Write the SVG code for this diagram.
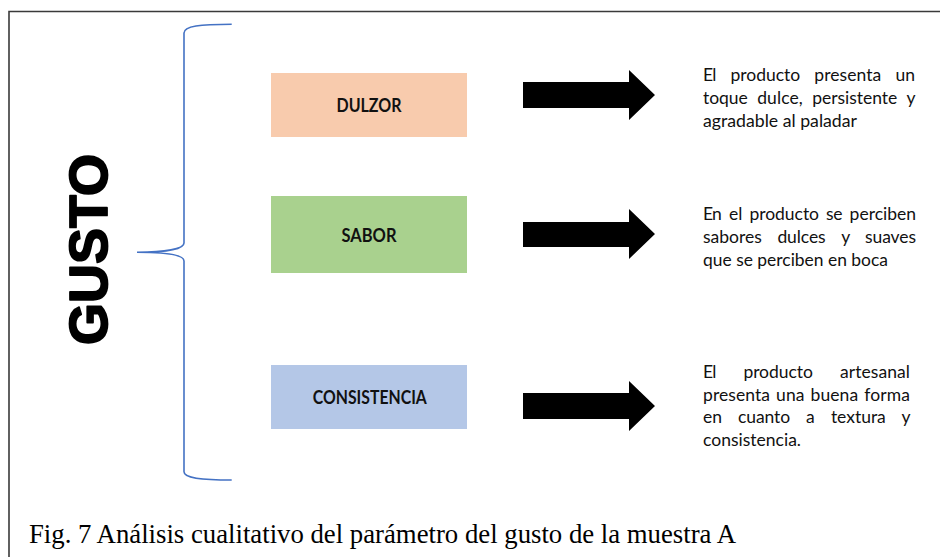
<svg xmlns="http://www.w3.org/2000/svg" width="940" height="557" viewBox="0 0 940 557">
<style>
.frame{fill:none;stroke:#3a3a3a;stroke-width:1.6}
.brace{fill:none;stroke:#4472C4;stroke-width:1.6}
.box{stroke:none}
.lbl{font-family:Lato,"Open Sans","Liberation Sans",sans-serif;font-weight:bold;font-size:18px;fill:#111;text-anchor:middle}
.body{font-family:Lato,"Open Sans","Liberation Sans",sans-serif;font-size:17.5px;fill:#111}
.arrow{fill:#000}
.title{font-family:"Liberation Sans",Arial,sans-serif;font-weight:bold;font-size:53px;fill:#000;stroke:#000;stroke-width:1.8;stroke-linejoin:round;text-anchor:middle}
.cap{font-family:"Liberation Serif","Times New Roman",serif;font-size:26.6px;fill:#000}
</style>
<rect width="940" height="557" fill="#fff"/>
<path class="frame" d="M9,557 V11.5 H940"/>

<g id="gusto">
<text class="title" transform="translate(106.5,249.5) rotate(-90)" x="0" y="0" textLength="191" lengthAdjust="spacingAndGlyphs">GUSTO</text>
</g>

<g id="brace">
<path class="brace" d="M231.7,24.3 C200,24.3 184,26 184,33 V243 C184,249 165,252.3 137,252.3 C165,252.3 184,255 184,261 V471.7 C184,478 200,480 231.7,480"/>
</g>

<g id="dulzor">
<rect class="box" x="271" y="73" width="196" height="64" fill="#F8CBAD"/>
<text class="lbl" x="369" y="112.3" textLength="65" lengthAdjust="spacingAndGlyphs">DULZOR</text>
</g>
<g id="sabor">
<rect class="box" x="271" y="196" width="196" height="77" fill="#A9D18E"/>
<text class="lbl" x="369" y="241.7" textLength="55" lengthAdjust="spacingAndGlyphs">SABOR</text>
</g>
<g id="consistencia">
<rect class="box" x="271" y="365" width="196" height="64" fill="#B4C7E7"/>
<text class="lbl" x="369.8" y="404" textLength="114" lengthAdjust="spacingAndGlyphs">CONSISTENCIA</text>
</g>

<g id="connectors">
<path class="arrow" d="M523,82 H629 V70 L655,95 L629,120 V108 H523 Z"/>
<path class="arrow" d="M523,222 H629 V209 L655,234 L629,259 V247 H523 Z"/>
<path class="arrow" d="M523,393 H629 V381 L655,406 L629,431 V419 H523 Z"/>
</g>

<g id="desc-dulzor">
<text class="body" y="81" lengthAdjust="spacingAndGlyphs"><tspan x="703" textLength="13.3">El</tspan><tspan x="730.6" textLength="69.5">producto</tspan><tspan x="814.3" textLength="67">presenta</tspan><tspan x="895.5" textLength="19.5">un</tspan></text>
<text class="body" y="104"><tspan x="703" textLength="44.8">toque</tspan><tspan x="757.2" textLength="45.6">dulce,</tspan><tspan x="812.2" textLength="85.1">persistente</tspan><tspan x="906.6" textLength="8.4">y</tspan></text>
<text class="body" x="703" y="127" textLength="154" lengthAdjust="spacingAndGlyphs">agradable al paladar</text>
</g>

<g id="desc-sabor">
<text class="body" y="220"><tspan x="703" textLength="18.8">En</tspan><tspan x="728.9" textLength="13.5">el</tspan><tspan x="749.5" textLength="69.5">producto</tspan><tspan x="826.1" textLength="16.5">se</tspan><tspan x="849.6" textLength="66.4">perciben</tspan></text>
<text class="body" y="243"><tspan x="703" textLength="58.8">sabores</tspan><tspan x="777.4" textLength="48.2">dulces</tspan><tspan x="841.2" textLength="8.4">y</tspan><tspan x="865.1" textLength="50.9">suaves</tspan></text>
<text class="body" x="703" y="266" textLength="185" lengthAdjust="spacingAndGlyphs">que se perciben en boca</text>
</g>

<g id="desc-consistencia">
<text class="body" y="378"><tspan x="703" textLength="13.3">El</tspan><tspan x="743.4" textLength="69.5">producto</tspan><tspan x="840" textLength="70">artesanal</tspan></text>
<text class="body" y="400.5"><tspan x="703" textLength="67">presenta</tspan><tspan x="776.1" textLength="28.4">una</tspan><tspan x="810.6" textLength="47.5">buena</tspan><tspan x="864.3" textLength="45.7">forma</tspan></text>
<text class="body" y="423"><tspan x="703" textLength="19">en</tspan><tspan x="737.9" textLength="52.3">cuanto</tspan><tspan x="806.1" textLength="8.9">a</tspan><tspan x="830.9" textLength="54.9">textura</tspan><tspan x="901.6" textLength="8.4">y</tspan></text>
<text class="body" x="703" y="445.5" textLength="98" lengthAdjust="spacingAndGlyphs">consistencia.</text>
</g>

<g id="caption">
<text class="cap" x="29" y="543.3" textLength="707" lengthAdjust="spacingAndGlyphs">Fig. 7 Análisis cualitativo del parámetro del gusto de la muestra A</text>
</g>
</svg>
